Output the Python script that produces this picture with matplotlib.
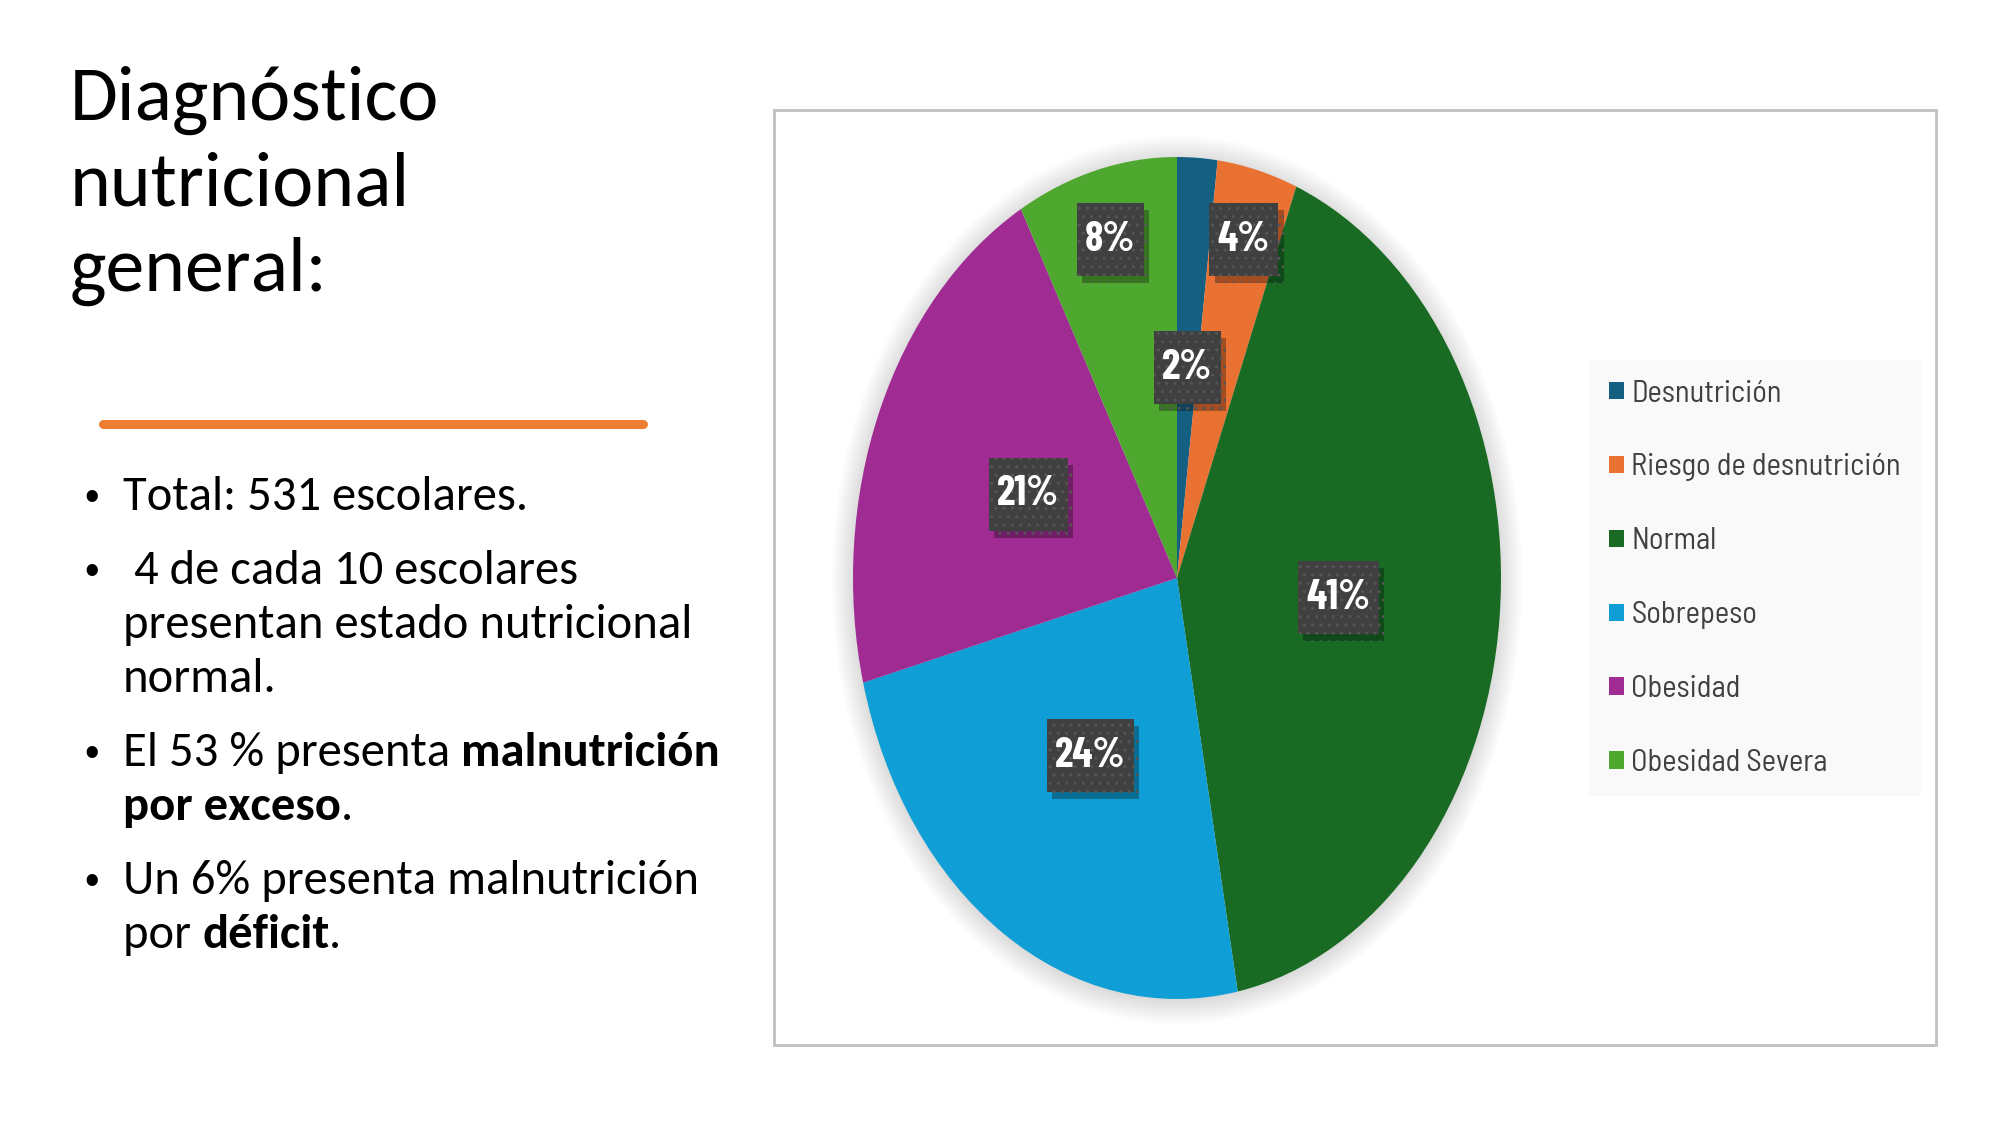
import matplotlib
matplotlib.use("Agg")
import matplotlib.pyplot as plt
from matplotlib import font_manager
from matplotlib import patheffects
from matplotlib.patches import Patch, Rectangle, Ellipse
from matplotlib.lines import Line2D
from matplotlib.path import Path
import numpy as np

# data
categories = ["Desnutrición", "Riesgo de desnutrición", "Normal",
              "Sobrepeso", "Obesidad", "Obesidad Severa"]
percent = [2, 4, 41, 24, 21, 8]
colors = ["#156082", "#E97132", "#196B24", "#0F9ED5", "#A02B93", "#4EA72E"]
label_radius = [0.5, 0.83, 0.5, 0.5, 0.5, 0.83]

title_lines = ["Diagnóstico", "nutricional", "general:"]
# each bullet: list of lines, each line a list of (text, bold) runs
bullets = [
    [[("Total: 531 escolares.", False)]],
    [[(" 4 de cada 10 escolares", False)],
     [("presentan estado nutricional", False)],
     [("normal.", False)]],
    [[("El 53 % presenta ", False), ("malnutrición", True)],
     [("por exceso", True), (".", False)]],
    [[("Un 6% presenta malnutrición", False)],
     [("por ", False), ("déficit", True), (".", False)]],
]

W, H = 2000, 1125
body_font = ["Carlito", "DejaVu Sans"]
legend_font = ["Barlow Semi Condensed", "DejaVu Sans"]
label_font = ["Barlow Condensed", "DejaVu Sans"]

fig = plt.figure(figsize=(20, 11.25), dpi=100)
fig.patch.set_facecolor("white")


def fx(px):
    return px / W


def fy(py):
    return 1 - py / H


# ---- left text block ----
for i, line in enumerate(title_lines):
    fig.text(fx(70), fy(120 + 85.5 * i), line, fontsize=56, family=body_font,
             color="black", va="baseline", ha="left")

fig.add_artist(Line2D([fx(103), fx(643)], [fy(424), fy(424)], color="#ED7D31",
                      lw=6.5, solid_capstyle="round"))

renderer = fig.canvas.get_renderer()


def run_width(txt, prop):
    w1 = renderer.get_text_width_height_descent("|" + txt + "|", prop, False)[0]
    w0 = renderer.get_text_width_height_descent("||", prop, False)[0]
    return w1 - w0


bullet_size = 35
y = 510
for b in bullets:
    fig.text(fx(92), fy(y), "•", fontsize=30, family=["Liberation Sans"],
             va="baseline", ha="center")
    for line in b:
        x = 123
        for txt, bold in line:
            weight = "bold" if bold else "normal"
            prop = font_manager.FontProperties(family=body_font, size=bullet_size,
                                               weight=weight)
            fig.text(fx(x), fy(y), txt, fontproperties=prop, color="black",
                     va="baseline", ha="left")
            x += run_width(txt, prop)
        y += 54.5
    y += 19

# ---- chart frame ----
fig.add_artist(Rectangle((fx(774), fy(1045)), fx(1936 - 774), (1045 - 110) / H,
                         fill=False, edgecolor="#c0c0c0", lw=2,
                         transform=fig.transFigure))

# ---- pie ----
cx, cy, rx, ry, lim = 1177, 578, 324, 421, 1.08
aw, ah = 2 * lim * rx / W, 2 * lim * ry / H
ax = fig.add_axes([fx(cx) - aw / 2, fy(cy) - ah / 2, aw, ah])

for k in range(12):
    ax.add_patch(Ellipse((0.0, -0.005), 2 * (1 + 0.006 * k), 2 * (1 + 0.005 * k),
                         facecolor="black", edgecolor="none", alpha=0.013, zorder=0))

wedges, _ = ax.pie(percent, colors=colors, startangle=90, counterclock=False,
                   radius=1, wedgeprops=dict(linewidth=0))
for w in wedges:
    w.set_zorder(2)
ax.set_aspect("auto")
ax.set_xlim(-lim, lim)
ax.set_ylim(-lim, lim)
ax.axis("off")


def label_box(x0, y0, width, height, mutation_size):
    # rectangular box with more padding above/below than at the sides
    px, py = 0.2 * mutation_size, 0.42 * mutation_size
    x0, y0 = x0 - px, y0 - py
    x1, y1 = x0 + width + 2 * px, y0 + height + 2 * py
    return Path([(x0, y0), (x1, y0), (x1, y1), (x0, y1), (x0, y0)], closed=True)


for w, p, r in zip(wedges, percent, label_radius):
    ang = np.deg2rad((w.theta1 + w.theta2) / 2)
    lx, ly = r * np.cos(ang), r * np.sin(ang)
    t = ax.text(lx, ly, f"{p}%", ha="center", va="center", fontsize=30,
                fontweight="bold", family=label_font, color="white",
                bbox=dict(boxstyle=label_box, facecolor="#404040",
                          edgecolor="#555555", linewidth=0, hatch=".."), zorder=4)
    t.get_bbox_patch().set_path_effects([
        patheffects.SimplePatchShadow(offset=(4, -5), shadow_rgbFace="black", alpha=0.3),
        patheffects.Normal()])

# ---- legend ----
handles = [Patch(facecolor=c, edgecolor="none") for c in colors]
leg = fig.legend(handles, categories, loc="upper left",
                 bbox_to_anchor=(fx(1589), fy(360)), frameon=True,
                 labelspacing=1.5, borderpad=0.64,
                 handlelength=0.5, handleheight=0.5, handletextpad=0.25,
                 borderaxespad=0, fancybox=False,
                 prop=dict(family=legend_font, size=22))
leg.get_frame().set_facecolor("#f8f8f8")
leg.get_frame().set_edgecolor("none")
for t in leg.get_texts():
    t.set_color("#404040")

fig.savefig("out.png", dpi=100)
